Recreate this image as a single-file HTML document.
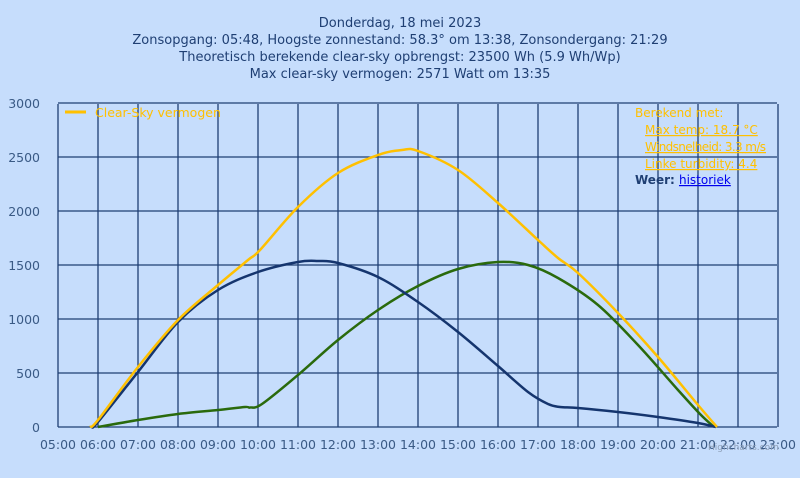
<!DOCTYPE html>
<html><head><meta charset="utf-8"><style>
body{margin:0;background:#c6ddfc;width:800px;height:473px;overflow:hidden;font-family:"Liberation Sans","DejaVu Sans",sans-serif}
</style></head><body>
<svg id="s" width="800" height="473" xmlns="http://www.w3.org/2000/svg" font-family="DejaVu Sans, Liberation Sans, sans-serif">
<rect width="800" height="473" fill="#c6ddfc"/>
<g fill="#1f3f73" font-size="13" text-anchor="middle">
<text x="400" y="27">Donderdag, 18 mei 2023</text>
<text x="400" y="44">Zonsopgang: 05:48, Hoogste zonnestand: 58.3° om 13:38, Zonsondergang: 21:29</text>
<text x="400" y="61">Theoretisch berekende clear-sky opbrengst: 23500 Wh (5.9 Wh/Wp)</text>
<text x="400" y="78">Max clear-sky vermogen: 2571 Watt om 13:35</text>
</g>
<g id="grid" stroke="#1f3f73" stroke-width="1.3" fill="none"></g>
<g id="lab" fill="#3a5a85" font-size="12.5"></g>
<g id="series" fill="none" stroke-width="2.5" stroke-linejoin="round"></g>
<line x1="65" y1="112" x2="86" y2="112" stroke="#ffc000" stroke-width="3"/>
<text x="95" y="117" fill="#ffc000" font-size="12.5">Clear-Sky vermogen</text>
<g font-size="12" fill="#ffc000">
<text x="635" y="117">Berekend met:</text>
<text x="645" y="134" text-decoration="underline">Max temp: 18.7 °C</text>
<text x="645" y="151" text-decoration="underline" textLength="121">Windsnelheid: 3.3 m/s</text>
<text x="645" y="168" text-decoration="underline">Linke turbidity: 4.4</text>
<text x="635" y="184" fill="#1f3f73" font-weight="bold">Weer: <tspan fill="#0000ee" font-weight="normal" text-decoration="underline">historiek</tspan></text>
</g>
<text x="708" y="450" fill="#8fa0b8" font-size="9">Highcharts.com</text>
</svg>
<script>
var ns="http://www.w3.org/2000/svg",g=document.getElementById('grid'),l=document.getElementById('lab'),se=document.getElementById('series');
function el(p,t,a,txt){var e=document.createElementNS(ns,t);for(var k in a)e.setAttribute(k,a[k]);if(txt)e.textContent=txt;p.appendChild(e);return e;}
for(var i=0;i<=6;i++){var y=427-i*54;el(g,'line',{x1:58,x2:777,y1:y,y2:y});el(l,'text',{x:40,y:y+5,'text-anchor':'end'},String(i*500));}
for(var h=0;h<=18;h++){var x=58+h*40;el(g,'line',{x1:x,x2:x,y1:104,y2:427});var hh=5+h;el(l,'text',{x:x,y:449,'text-anchor':'middle'},(hh<10?'0':'')+hh+':00');}
function cr(p){var d='M'+p[0][0]+','+p[0][1];for(var i=0;i<p.length-1;i++){var p0=p[i-1]||p[i],p1=p[i],p2=p[i+1],p3=p[i+2]||p2;d+=' C'+(p1[0]+(p2[0]-p0[0])/6)+','+(p1[1]+(p2[1]-p0[1])/6)+' '+(p2[0]-(p3[0]-p1[0])/6)+','+(p2[1]-(p3[1]-p1[1])/6)+' '+p2[0]+','+p2[1];}return d;}
var Y=[[90,427],[98,420],[138,367],[178,320],[218,285],[248,260],[260,250],[298,207],[338,173],[378,155],[402,150],[418,151],[458,170],[498,203],[538,240],[558,258],[578,273],[618,313],[658,357],[698,405],[717,427]];
var B=[[92,427],[98,422],[138,372],[178,322],[218,290],[258,272],[298,262],[318,261],[338,263],[378,277],[418,302],[458,332],[498,366],[528,392],[548,404],[560,407],[578,408],[618,412],[658,417],[698,423],[716,427]];
var G=[[98,427],[138,420],[178,414],[218,410],[245,407],[250,407.5],[262,404],[298,375],[338,340],[378,310],[418,286],[458,269],[498,262],[528,265],[558,278],[598,305],[638,345],[678,390],[700,414],[714,427]];
el(se,'path',{d:cr(G),stroke:'#2a6a0c'});
el(se,'path',{d:cr(B),stroke:'#15356e'});
el(se,'path',{d:cr(Y),stroke:'#ffc000'});
</script>
</body></html>
